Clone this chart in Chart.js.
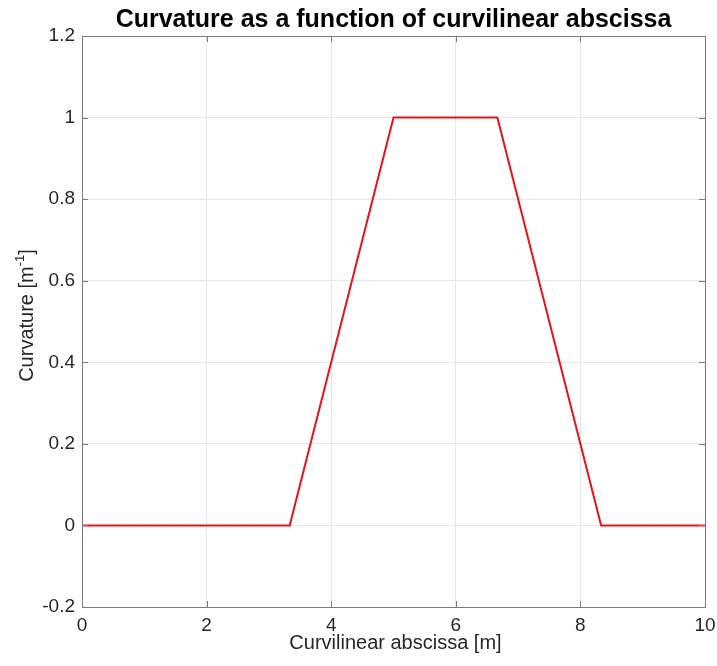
<!DOCTYPE html>
<html>
<head>
<meta charset="utf-8">
<style>
  html, body { margin: 0; padding: 0; background: #fff; }
  #wrap { width: 717px; height: 666px; }
</style>
<script src="https://cdn.jsdelivr.net/npm/chart.js@4.4.1/dist/chart.umd.min.js"></script>
</head>
<body>
<div id="wrap"><canvas id="curv"></canvas></div>
<script>
// curvature profile: straight, clothoid in, arc, clothoid out, straight
const abscissa = [0, 3.333, 5, 6.667, 8.333, 10];
const curvature = [0, 0, 1, 1, 0, 0];
const xTicks = [0, 2, 4, 6, 8, 10];
const yTicks = [-0.2, 0, 0.2, 0.4, 0.6, 0.8, 1, 1.2];

const FONT = '"Liberation Sans", Arial, Helvetica, sans-serif';
const TXT = '#262626';

// title, axis labels (y one with superscript), inward tick marks and box
const decor = {
    id: 'decor',
    afterDraw(chart) {
        const c = chart.ctx;
        const a = chart.chartArea;
        const xs = chart.scales.x, ys = chart.scales.y;
        c.save();
        c.strokeStyle = '#7a7a7a';
        c.lineWidth = 1;
        c.beginPath();
        xTicks.forEach(v => {
            const p = Math.round(xs.getPixelForValue(v)) + 0.5;
            c.moveTo(p, a.bottom); c.lineTo(p, a.bottom - 6);
            c.moveTo(p, a.top); c.lineTo(p, a.top + 6);
        });
        yTicks.forEach(v => {
            const p = Math.round(ys.getPixelForValue(v)) + 0.5;
            c.moveTo(a.left, p); c.lineTo(a.left + 6, p);
            c.moveTo(a.right, p); c.lineTo(a.right - 6, p);
        });
        c.stroke();
        c.strokeRect(Math.round(a.left) + 0.5, Math.round(a.top) + 0.5,
            Math.round(a.right - a.left), Math.round(a.bottom - a.top));

        const cx = (a.left + a.right) / 2;
        c.fillStyle = '#000';
        c.font = 'bold 25px ' + FONT;
        c.textAlign = 'center';
        c.textBaseline = 'alphabetic';
        c.fillText('Curvature as a function of curvilinear abscissa', cx, 27);

        c.fillStyle = TXT;
        c.font = '20px ' + FONT;
        c.fillText('Curvilinear abscissa [m]', cx + 2, 649);

        c.translate(33, (a.top + a.bottom) / 2 - 6);
        c.rotate(-Math.PI / 2);
        const main = 'Curvature [m', sup = '-1', end = ']';
        c.font = '20px ' + FONT;
        const w1 = c.measureText(main).width, w3 = c.measureText(end).width;
        c.font = '13px ' + FONT;
        const w2 = c.measureText(sup).width;
        const x = -(w1 + w2 + w3) / 2;
        c.textAlign = 'left';
        c.font = '20px ' + FONT;
        c.fillText(main, x, 0);
        c.font = '13px ' + FONT;
        c.fillText(sup, x + w1, -9);
        c.font = '20px ' + FONT;
        c.fillText(end, x + w1 + w2, 0);
        c.restore();
    }
};

new Chart(document.getElementById('curv'), {
    type: 'scatter',
    data: {
        datasets: [{
            label: 'Curvature',
            data: abscissa.map((s, i) => ({ x: s, y: curvature[i] })),
            showLine: true,
            borderColor: '#e3141b',
            borderWidth: 2,
            pointRadius: 0,
            tension: 0
        }]
    },
    options: {
        responsive: true,
        maintainAspectRatio: false,
        animation: false,
        layout: { padding: { top: 36, right: 12, left: 0, bottom: 0 } },
        plugins: { legend: { display: false }, tooltip: { enabled: false } },
        scales: {
            x: {
                type: 'linear',
                min: 0, max: 10,
                afterBuildTicks: s => { s.ticks = xTicks.map(v => ({ value: v })); },
                afterFit: s => { s.height = 59; s.paddingLeft = 0; s.paddingRight = 0; },
                grid: { color: '#e6e6e6', drawTicks: false },
                border: { display: false },
                ticks: { color: TXT, font: { family: FONT, size: 19 }, padding: 7, maxRotation: 0 }
            },
            y: {
                min: -0.2, max: 1.2,
                afterBuildTicks: s => { s.ticks = yTicks.map(v => ({ value: v })); },
                afterFit: s => { s.width = 82; s.paddingTop = 0; s.paddingBottom = 0; },
                grid: { color: '#e6e6e6', drawTicks: false },
                border: { display: false },
                ticks: {
                    color: TXT, font: { family: FONT, size: 19 }, padding: 7,
                    callback: v => String(Math.round(v * 10) / 10)
                }
            }
        }
    },
    plugins: [decor]
});
</script>
</body>
</html>
